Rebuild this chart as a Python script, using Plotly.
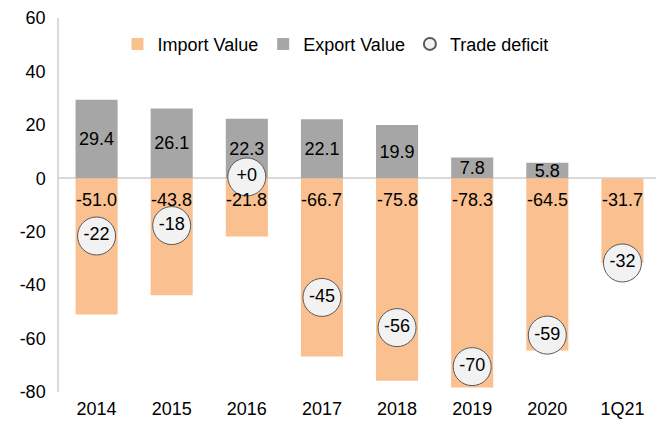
import plotly.graph_objects as go

years = ['2014', '2015', '2016', '2017', '2018', '2019', '2020', '1Q21']
imports = [-51.0, -43.8, -21.8, -66.7, -75.8, -78.3, -64.5, -31.7]
exports = [29.4, 26.1, 22.3, 22.1, 19.9, 7.8, 5.8, None]
deficit = [-21.6, -17.7, 0.5, -44.6, -55.9, -70.5, -58.7, -31.7]
deficit_labels = ['-22', '-18', '+0', '-45', '-56', '-70', '-59', '-32']
y_ticks = [-80, -60, -40, -20, 0, 20, 40, 60]
y_tick_labels = ['-80', '-60', '-40', '-20', '0', '20', '40', '60']

font = dict(family='Liberation Sans, Arial, sans-serif', size=18, color='#000000')

fig = go.Figure()
fig.add_trace(go.Bar(
    x=years, y=imports, name='Import Value',
    marker=dict(color='#FAC090', line=dict(width=0)),
))
fig.add_trace(go.Bar(
    x=years, y=exports, name='Export Value',
    marker=dict(color='#A6A6A6', line=dict(width=0)),
    text=[f'{v:.1f}' if v is not None else '' for v in exports],
    textposition='inside', insidetextanchor='middle', textfont=font, textangle=0,
))
# import value labels sit just under the zero line (x given as category index)
for i, v in enumerate(imports):
    fig.add_annotation(x=i, y=0, text=f'{v:.1f}', showarrow=False,
                       yanchor='middle', yshift=-22, font=font)
fig.add_trace(go.Scatter(
    x=years, y=deficit, name='Trade deficit', mode='markers+text',
    marker=dict(size=38, color='#F2F2F2', line=dict(color='#595959', width=1)),
    text=deficit_labels, textposition='middle center', textfont=font,
))

# page body adds an 8px margin, so the figure is a bit smaller than the window
fig.update_layout(
    width=656, height=418,
    margin=dict(l=51, r=4, t=10, b=34),
    barmode='relative', bargap=0.44,
    plot_bgcolor='white', paper_bgcolor='white',
    font=font,
    uniformtext=dict(minsize=18, mode='show'),
    legend=dict(orientation='h', x=0.46, y=0.93, xanchor='center', yanchor='middle',
                itemsizing='constant', itemwidth=30, font=font,
                bgcolor='rgba(0,0,0,0)'),
    xaxis=dict(type='category', categoryorder='array', categoryarray=years,
               range=[-0.5, len(years) - 0.5],
               showline=False, showgrid=False, ticks='', tickfont=font,
               automargin=False, ticklabelstandoff=4),
    yaxis=dict(range=[-80, 60], tickvals=y_ticks, ticktext=y_tick_labels,
               showgrid=False, zeroline=True,
               zerolinecolor='#D9D9D9', zerolinewidth=1.5,
               showline=True, linecolor='#D9D9D9', linewidth=1.5,
               ticks='', tickfont=font, automargin=False, ticklabelstandoff=8),
)

fig.write_html("out.html")
